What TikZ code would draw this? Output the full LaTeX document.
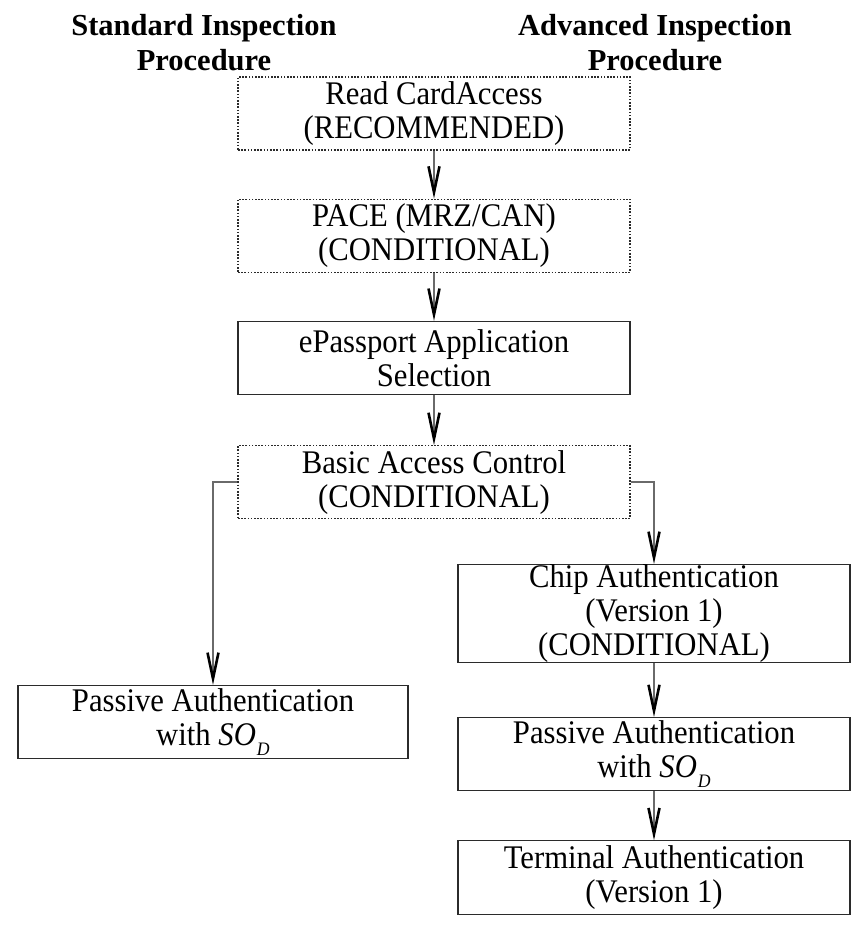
\documentclass[tikz,border=0pt]{standalone}
\usepackage{fontspec}
\setmainfont{Liberation Serif}
\newfontfamily\boxfont[FakeStretch=0.93]{Liberation Serif}
\usepackage{xcolor}
\usepackage{tikz}
\usetikzlibrary{arrows.meta, positioning}
\definecolor{IP_LINE}{HTML}{2b2b2b}
\definecolor{IP_ARR}{HTML}{6a6a6a}
\newcommand{\SOD}{\textit{SO}\hspace{1pt}\raisebox{-10pt}{\fontsize{19}{19}\selectfont\textit{D}}}
\tikzset{
  chk/.style={
    rectangle, inner sep=0pt,
    minimum width=392pt, minimum height=73pt,
    text centered, align=center,
    draw=IP_LINE, line width=1.2pt,
    font=\boxfont\fontsize{33}{34}\selectfont},
  optchk/.style={chk, dash pattern=on 1.6pt off 1.6pt},
  ttl/.style={align=center, inner sep=0pt,
    font=\fontsize{30.5}{35}\selectfont\bfseries},
  arr/.style={-{Straight Barb[length=26pt,width=11pt,line width=2.6pt,black]},
    line width=1.3pt, color=IP_ARR},
}
\begin{document}
\begin{tikzpicture}[x=1pt, y=-1pt, node distance=48pt]
  \useasboundingbox (0,0) rectangle (857,926);

  \node[ttl] (tstd) at (204,43) {Standard Inspection\\Procedure};
  \node[ttl] (tadv) at (655,43) {Advanced Inspection\\Procedure};

  \node[optchk] (read) at (434,113.5)
    {Read CardAccess\\(RECOMMENDED)};
  \node[optchk, below=of read] (pace)
    {PACE (MRZ/CAN)\\(CONDITIONAL)};
  \node[chk, below=of pace] (epass)
    {ePassport Application\\Selection};
  \node[optchk, below=50pt of epass] (bac)
    {Basic Access Control\\(CONDITIONAL)};

  \node[chk, minimum width=390pt] (pasl) at (213,722)
    {Passive Authentication\\with \SOD};

  \node[chk, minimum height=97pt] (chip) at (654,613.5)
    {Chip Authentication\\(Version 1)\\(CONDITIONAL)};
  \node[chk, below=54pt of chip] (pasr)
    {Passive Authentication\\with \SOD};
  \node[chk, below=49pt of pasr, minimum height=74pt] (term)
    {Terminal Authentication\\(Version 1)};

  \draw[arr] (read)  -- (pace);
  \draw[arr] (pace)  -- (epass);
  \draw[arr] (epass) -- (bac);
  \draw[arr] (bac.west) -| (pasl.north);
  \draw[arr] (bac.east) -| (chip.north);
  \draw[arr] (chip)  -- (pasr);
  \draw[arr] (pasr)  -- (term);

\end{tikzpicture}
\end{document}
